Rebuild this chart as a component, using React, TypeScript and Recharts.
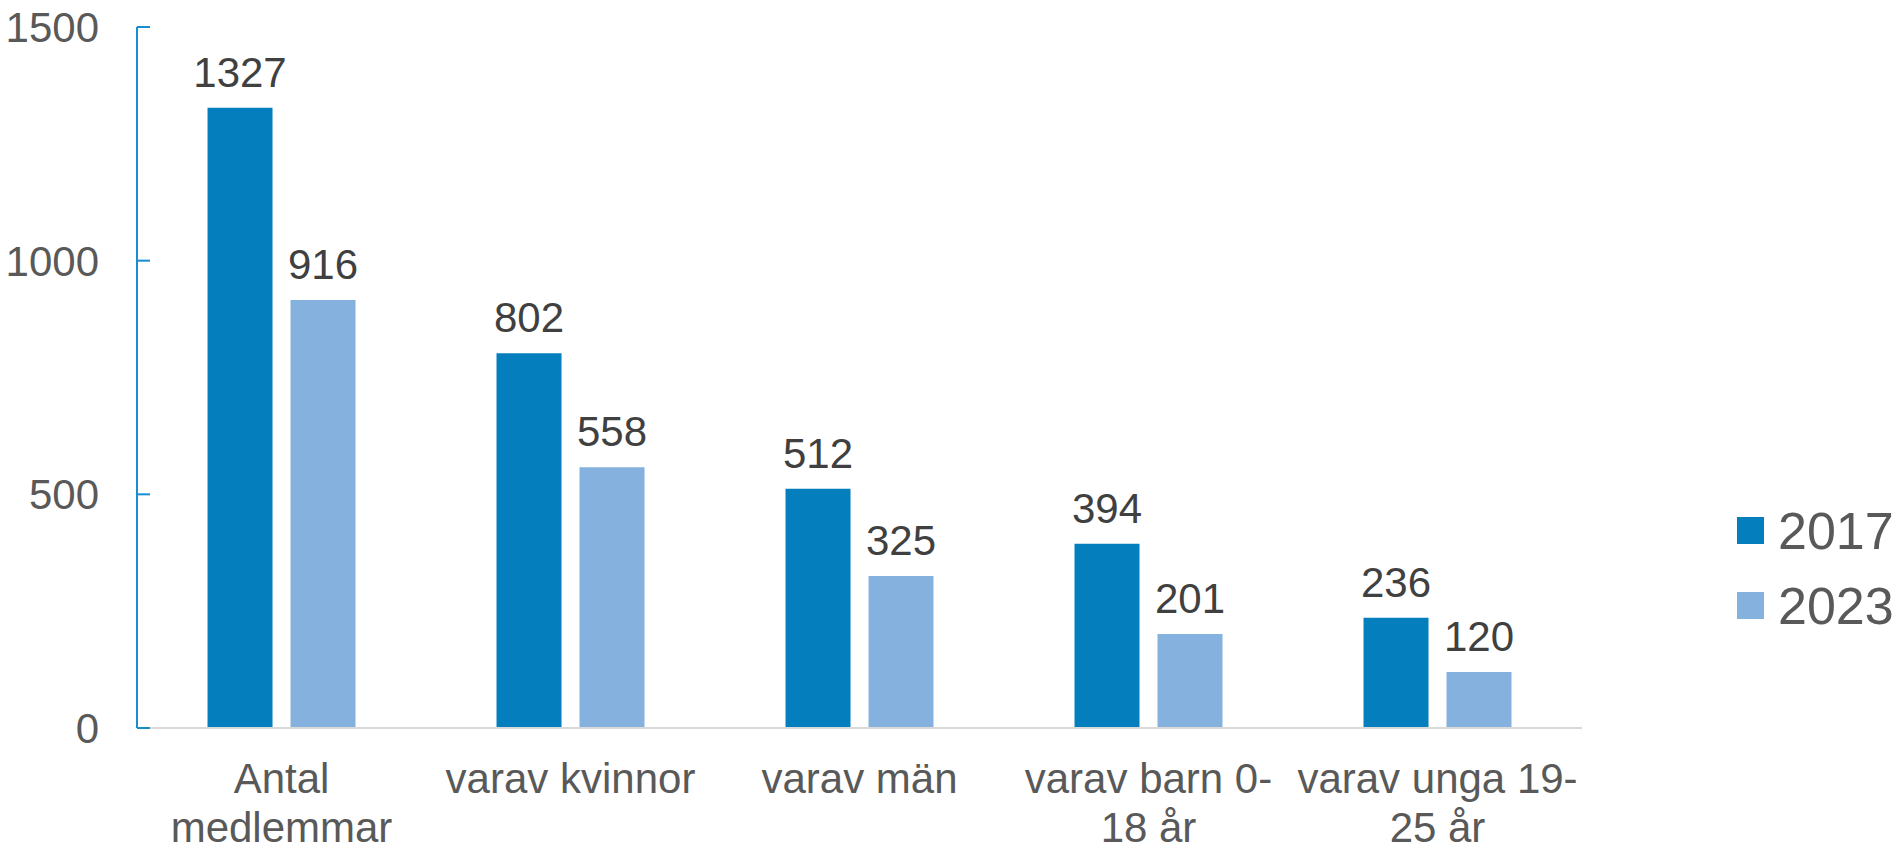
import React from "react";
import { BarChart, Bar, XAxis, YAxis, Legend, LabelList } from "recharts";

const categories = ["Antal\nmedlemmar", "varav kvinnor", "varav män", "varav barn 0-\n18 år", "varav unga 19-\n25 år"];
const values2017 = [1327, 802, 512, 394, 236];
const values2023 = [916, 558, 325, 201, 120];
const seriesNames = ["2017", "2023"];
const yTicks = [0, 500, 1000, 1500];

const COLORS = ["#047EBD", "#84B1DD"];
const FONT = "'Liberation Sans', Arial, sans-serif";

const data = categories.map((c, i) => ({
  name: c,
  [seriesNames[0]]: values2017[i],
  [seriesNames[1]]: values2023[i],
}));

const YTick = (props: any) => {
  const { x, y, payload } = props;
  return (
    <g>
      <line x1={x} y1={y} x2={x + 13} y2={y} stroke="#1A8CD0" strokeWidth={2} />
      <text x={x - 38} y={y} dy="0.355em" textAnchor="end" fontSize={42} fill="#595959" fontFamily={FONT}>
        {payload.value}
      </text>
    </g>
  );
};

const XTick = (props: any) => {
  const { x, y, payload } = props;
  const lines = String(payload.value).split("\n");
  return (
    <g>
      {lines.map((l: string, i: number) => (
        <text key={i} x={x} y={y + 65 + i * 49} textAnchor="middle" fontSize={42} fill="#595959" fontFamily={FONT}>
          {l}
        </text>
      ))}
    </g>
  );
};

const ValueLabel = (props: any) => {
  const { x, y, width, value } = props;
  return (
    <text x={x + width / 2} y={y - 21} textAnchor="middle" fontSize={42} fill="#404040" fontFamily={FONT}>
      {value}
    </text>
  );
};

const LegendContent = () => (
  <div style={{ fontFamily: FONT }}>
    {seriesNames.map((n, i) => (
      <div key={n} style={{ display: "flex", alignItems: "center", height: 75 }}>
        <div style={{ width: 27, height: 27, background: COLORS[i], marginRight: 14 }} />
        <span style={{ fontSize: 52, lineHeight: 1, color: "#595959" }}>{n}</span>
      </div>
    ))}
  </div>
);

export default function App() {
  return (
    <div style={{ position: "absolute", left: 0, top: 0, width: 1901, height: 846, background: "#fff" }}>
      <BarChart
        width={1901}
        height={846}
        data={data}
        margin={{ top: 27, right: 319, bottom: 0, left: 0 }}
        barCategoryGap="24.4%"
        barGap={18}
      >
        <XAxis
          dataKey="name"
          height={118}
          axisLine={{ stroke: "#D9D9D9", strokeWidth: 2 }}
          tickLine={false}
          tickSize={0}
          tickMargin={0}
          tick={<XTick />}
          interval={0}
        />
        <YAxis
          width={137}
          domain={[0, 1500]}
          ticks={yTicks}
          axisLine={{ stroke: "#1A8CD0", strokeWidth: 2 }}
          tickLine={false}
          tickSize={0}
          tickMargin={0}
          tick={<YTick />}
          interval={0}
        />
        <Legend
          layout="vertical"
          align="center"
          verticalAlign="middle"
          content={<LegendContent />}
          wrapperStyle={{ left: 1737, top: 493, width: 170 }}
        />
        <Bar dataKey={seriesNames[0]} fill={COLORS[0]} isAnimationActive={false}>
          <LabelList dataKey={seriesNames[0]} content={<ValueLabel />} />
        </Bar>
        <Bar dataKey={seriesNames[1]} fill={COLORS[1]} isAnimationActive={false}>
          <LabelList dataKey={seriesNames[1]} content={<ValueLabel />} />
        </Bar>
      </BarChart>
    </div>
  );
}
